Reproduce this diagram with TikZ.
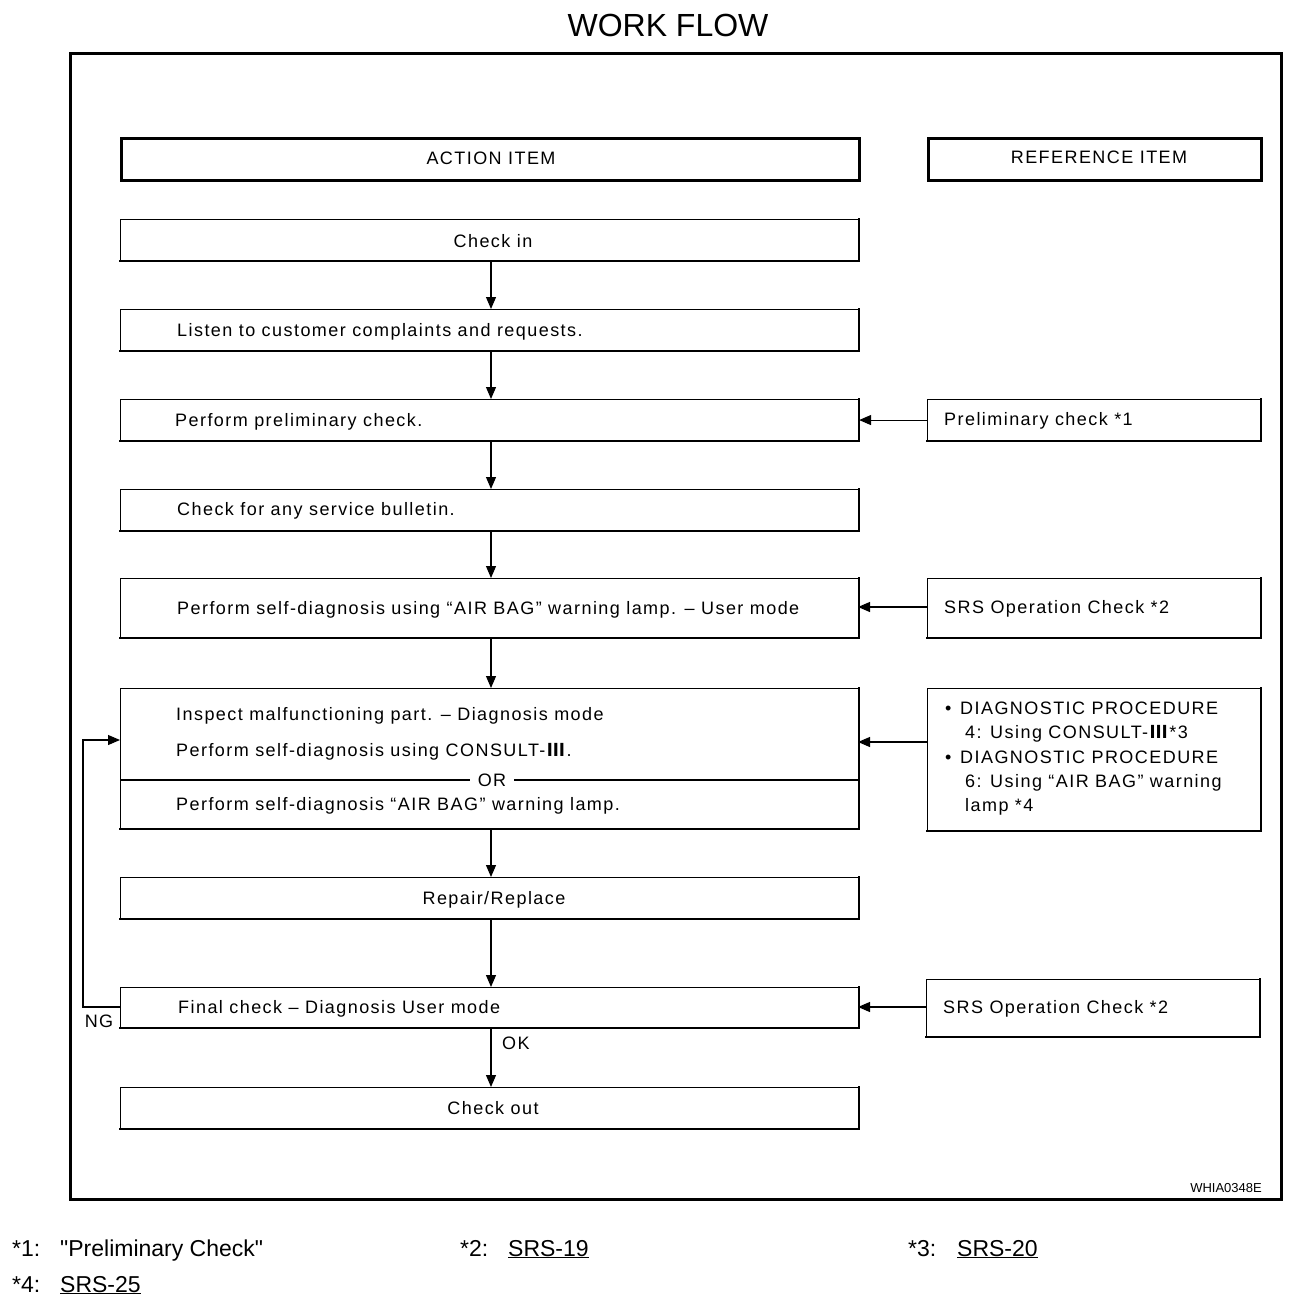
\documentclass[tikz,border=0pt]{standalone}
\usepackage{fontspec}
\usepackage{graphicx}
\setmainfont{Liberation Sans}
\newfontfamily\boxfam{Liberation Sans}[LetterSpace=8]
\newfontfamily\footfam{Liberation Sans}[Ligatures=TeXOff]
\newfontfamily\djv{DejaVu Sans}
\usetikzlibrary{arrows.meta}
\newcommand{\edgeBR}[1]{\draw[line width=2.2pt,line cap=rect] (#1.south west) -- (#1.south east) -- (#1.north east);}
\newcommand{\boxfont}{\boxfam\fontsize{18}{21}\selectfont}
\newcommand{\numIII}{\scalebox{1.7}[1]{\djv\fontsize{18}{21}\selectfont Ⅲ}}
\begin{document}
\begin{tikzpicture}[x=1pt,y=-1pt,
  box/.style={draw, line width=1.1pt, inner sep=0pt, anchor=north west, minimum width=738pt},
  rbox/.style={draw, line width=1.1pt, inner sep=0pt, anchor=north west, minimum width=333pt},
  hbox/.style={draw, line width=3pt, inner sep=0pt, anchor=north west, minimum height=42pt},
  txt/.style={inner sep=0pt, font=\boxfont, text height=12.9pt, text depth=0pt},
  ltxt/.style={txt, anchor=west},
  arr/.style={line width=1.1pt, -{Triangle[length=12pt,width=10pt]}},
  foot/.style={inner sep=0pt, anchor=base west, font=\footfam\fontsize{23}{27}\selectfont}
]
\useasboundingbox (0,0) rectangle (1312,1300);
% title and frame
\node[inner sep=0pt, font=\fontsize{32}{36}\selectfont] (title) at (668,25) {WORK FLOW};
\draw[line width=3pt] (70,54) rectangle (1281,1199);
\node[inner sep=0pt, anchor=east, font=\fontsize{13}{15}\selectfont] (code) at (1262,1188) {WHIA0348E};
% headers
\node[hbox, minimum width=738pt] (hact) at (120,137) {};
\node[txt] (hacttxt) at (491,158) {ACTION ITEM};
\node[hbox, minimum width=333pt] (href) at (927,137) {};
\node[txt] (hreftxt) at (1099,157) {REFERENCE ITEM};
% action boxes
\node[box, minimum height=41pt] (checkin) at (120,219) {};
\node[txt] (checkintxt) at (493,241) {Check in};
\node[box, minimum height=41pt] (listen) at (120,309) {};
\node[ltxt] (listentxt) at (177,330) {Listen to customer complaints and requests.};
\node[box, minimum height=41pt] (prelim) at (120,399) {};
\node[ltxt] (prelimtxt) at (175,420) {Perform preliminary check.};
\node[box, minimum height=41pt] (bulletin) at (120,489) {};
\node[ltxt] (bulletintxt) at (177,509) {Check for any service bulletin.};
\node[box, minimum height=59pt] (selfdiag) at (120,578) {};
\node[ltxt] (selfdiagtxt) at (177,608) {Perform self-diagnosis using “AIR BAG” warning lamp. – User mode};
\node[box, minimum height=140pt] (inspect) at (120,688) {};
\node[ltxt] (inspecttxt1) at (176,714) {Inspect malfunctioning part. – Diagnosis mode};
\node[ltxt] (inspecttxt2) at (176,750) {Perform self-diagnosis using CONSULT-\numIII.};
\draw[line width=1.1pt] (120,780) -- (858,780);
\node[txt, fill=white, inner xsep=8pt] (ortxt) at (492,780) {OR};
\node[ltxt] (inspecttxt3) at (176,804) {Perform self-diagnosis “AIR BAG” warning lamp.};
\node[box, minimum height=41pt] (repair) at (120,877) {};
\node[txt] (repairtxt) at (494,898) {Repair/Replace};
\node[box, minimum height=40pt] (final) at (120,987) {};
\node[ltxt] (finaltxt) at (178,1007) {Final check – Diagnosis User mode};
\node[box, minimum height=41pt] (checkout) at (120,1087) {};
\node[txt] (checkouttxt) at (493,1108) {Check out};
% reference boxes
\node[rbox, minimum height=41pt] (rprelim) at (927,399) {};
\node[ltxt] (rprelimtxt) at (944,419) {Preliminary check *1};
\node[rbox, minimum height=59pt] (rsrs1) at (927,578) {};
\node[ltxt] (rsrs1txt) at (944,607) {SRS Operation Check *2};
\node[rbox, minimum height=142pt] (rdiag) at (927,688) {};
\node[ltxt] (rb1) at (945,708) {•};
\node[ltxt] (rd1) at (960,708) {DIAGNOSTIC PROCEDURE};
\node[ltxt] (rd2) at (965,732) {4: Using CONSULT-\numIII*3};
\node[ltxt] (rb3) at (945,757) {•};
\node[ltxt] (rd3) at (960,757) {DIAGNOSTIC PROCEDURE};
\node[ltxt] (rd4) at (965,781) {6: Using “AIR BAG” warning};
\node[ltxt] (rd5) at (965,805) {lamp *4};
\node[rbox, minimum height=57pt] (rsrs2) at (926,979) {};
\node[ltxt] (rsrs2txt) at (943,1007) {SRS Operation Check *2};
% bottom/right heavier edges
\foreach \n in {checkin,listen,prelim,bulletin,selfdiag,inspect,repair,final,checkout,rprelim,rsrs1,rdiag,rsrs2} {\edgeBR{\n}}
% vertical flow
\draw[arr] (checkin.south -| 491,0) -- (listen.north -| 491,0);
\draw[arr] (listen.south -| 491,0) -- (prelim.north -| 491,0);
\draw[arr] (prelim.south -| 491,0) -- (bulletin.north -| 491,0);
\draw[arr] (bulletin.south -| 491,0) -- (selfdiag.north -| 491,0);
\draw[arr] (selfdiag.south -| 491,0) -- (inspect.north -| 491,0);
\draw[arr] (inspect.south -| 491,0) -- (repair.north -| 491,0);
\draw[arr] (repair.south -| 491,0) -- (final.north -| 491,0);
\draw[arr] (final.south -| 491,0) -- (checkout.north -| 491,0);
\node[ltxt] (ok) at (502,1043) {OK};
% horizontal reference arrows
\draw[arr] (rprelim.west) -- (rprelim.west -| prelim.east);
\draw[arr] (rsrs1.west |- 0,607) -- (858,607);
\draw[arr] (rdiag.west |- 0,742) -- (858,742);
\draw[arr] (rsrs2.west |- 0,1007) -- (858,1007);
% NG loop
\coordinate (ngb) at (83,1007);
\coordinate (ngt) at (83,740);
\draw[arr] (final.west |- 0,1007) -- (ngb) -- (ngt) -- (inspect.west |- 0,740);
\node[txt] (ng) at (99,1021) {NG};
% footnotes
\node[foot] (f1a) at (12,1256) {*1:};
\node[foot] (f1b) at (60,1256) {"Preliminary Check"};
\node[foot] (f2a) at (460,1256) {*2:};
\node[foot] (f2b) at (508,1256) {\underline{SRS-19}};
\node[foot] (f3a) at (908,1256) {*3:};
\node[foot] (f3b) at (957,1256) {\underline{SRS-20}};
\node[foot] (f4a) at (12,1292) {*4:};
\node[foot] (f4b) at (60,1292) {\underline{SRS-25}};
\end{tikzpicture}
\end{document}
